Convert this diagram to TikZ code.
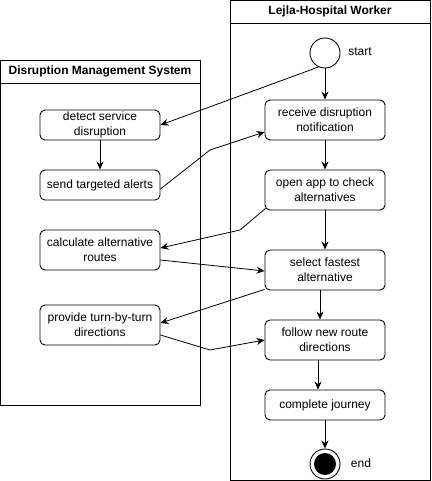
\documentclass[tikz,border=0pt]{standalone}
\usepackage{fontspec}
\setmainfont{Liberation Sans}
\usetikzlibrary{arrows.meta}
\begin{document}
\begin{tikzpicture}[x=1pt,y=-1pt, line width=0.9pt,
  act/.style={draw, rounded corners=5pt, minimum width=120pt, align=center,
    font=\fontsize{12}{15}\selectfont, inner sep=0pt},
  arr/.style={-{Stealth[length=8pt,width=7pt]}, line width=0.8pt},
  lanetitle/.style={font=\bfseries\fontsize{12}{14}\selectfont},
  plain/.style={font=\fontsize{12}{14}\selectfont}]
\useasboundingbox (0,0) rectangle (431,481);

% swimlanes
\draw (0.5,60) rectangle (200,405);
\draw (0.5,83) -- (200,83);
\node[lanetitle] (t1) at (100,71.5) {Disruption Management System};
\draw (230.5,0.5) rectangle (430,480);
\draw (230.5,23) -- (430,23);
\node[lanetitle] (t2) at (330,11.5) {Lejla-Hospital Worker};

% left lane
\node[act, minimum height=30pt] (detect) at (100,125) {detect service\\disruption};
\node[act, minimum height=30pt] (send) at (100,185) {send targeted alerts};
\node[act, minimum height=40pt] (calc) at (100,250) {calculate alternative\\routes};
\node[act, minimum height=40pt] (provide) at (100,325) {provide turn-by-turn\\directions};

% right lane
\node[draw, circle, minimum size=30pt, inner sep=0pt] (start) at (325,53) {};
\node[plain] (startl) at (360,52) {start};
\node[act, minimum height=40pt] (receive) at (325,120) {receive disruption\\notification};
\node[act, minimum height=40pt] (open) at (325,190) {open app to check\\alternatives};
\node[act, minimum height=40pt] (select) at (325,270) {select fastest\\alternative};
\node[act, minimum height=40pt] (follow) at (325,340) {follow new route\\directions};
\node[act, minimum height=30pt] (complete) at (325,405) {complete journey};
\node[draw, circle, minimum size=30pt, inner sep=0pt] (endc) at (325,464) {};
\node[fill=black, circle, minimum size=22pt, inner sep=0pt] (endi) at (325,464) {};
\node[plain] (endl) at (361,463) {end};

% flow in right lane
\draw[arr] (start) -- (receive);
\draw[arr] (receive) -- (open);
\draw[arr] (open) -- (select);
\draw[arr] ([xshift=-5pt]select.south) -- ([xshift=-5pt]follow.north);
\draw[arr] ([xshift=-7pt]follow.south) -- ([xshift=-7pt]complete.north);
\draw[arr] (complete) -- (endc);

% flow in left lane
\draw[arr] (detect) -- (send);

% cross-lane connectors
\coordinate (b1) at (210,150);
\coordinate (b2) at (240,230);
\coordinate (b3) at (210,350);
\draw[arr] (start.245) -- (detect.east);
\draw[arr] ([yshift=-4pt]send.east) -- (b1) -- ([yshift=-12pt]receive.west);
\draw[arr] ([xshift=1pt,yshift=2pt]open.south west) -- (b2) -- ([yshift=2pt]calc.east);
\draw[arr] ([yshift=-10pt]calc.east) -- ([yshift=-1pt]select.west);
\draw[arr] ([yshift=1pt]select.south west) -- ([yshift=2pt]provide.east);
\draw[arr] ([yshift=-10pt]provide.east) -- (b3) -- (follow.west);
\end{tikzpicture}
\end{document}
